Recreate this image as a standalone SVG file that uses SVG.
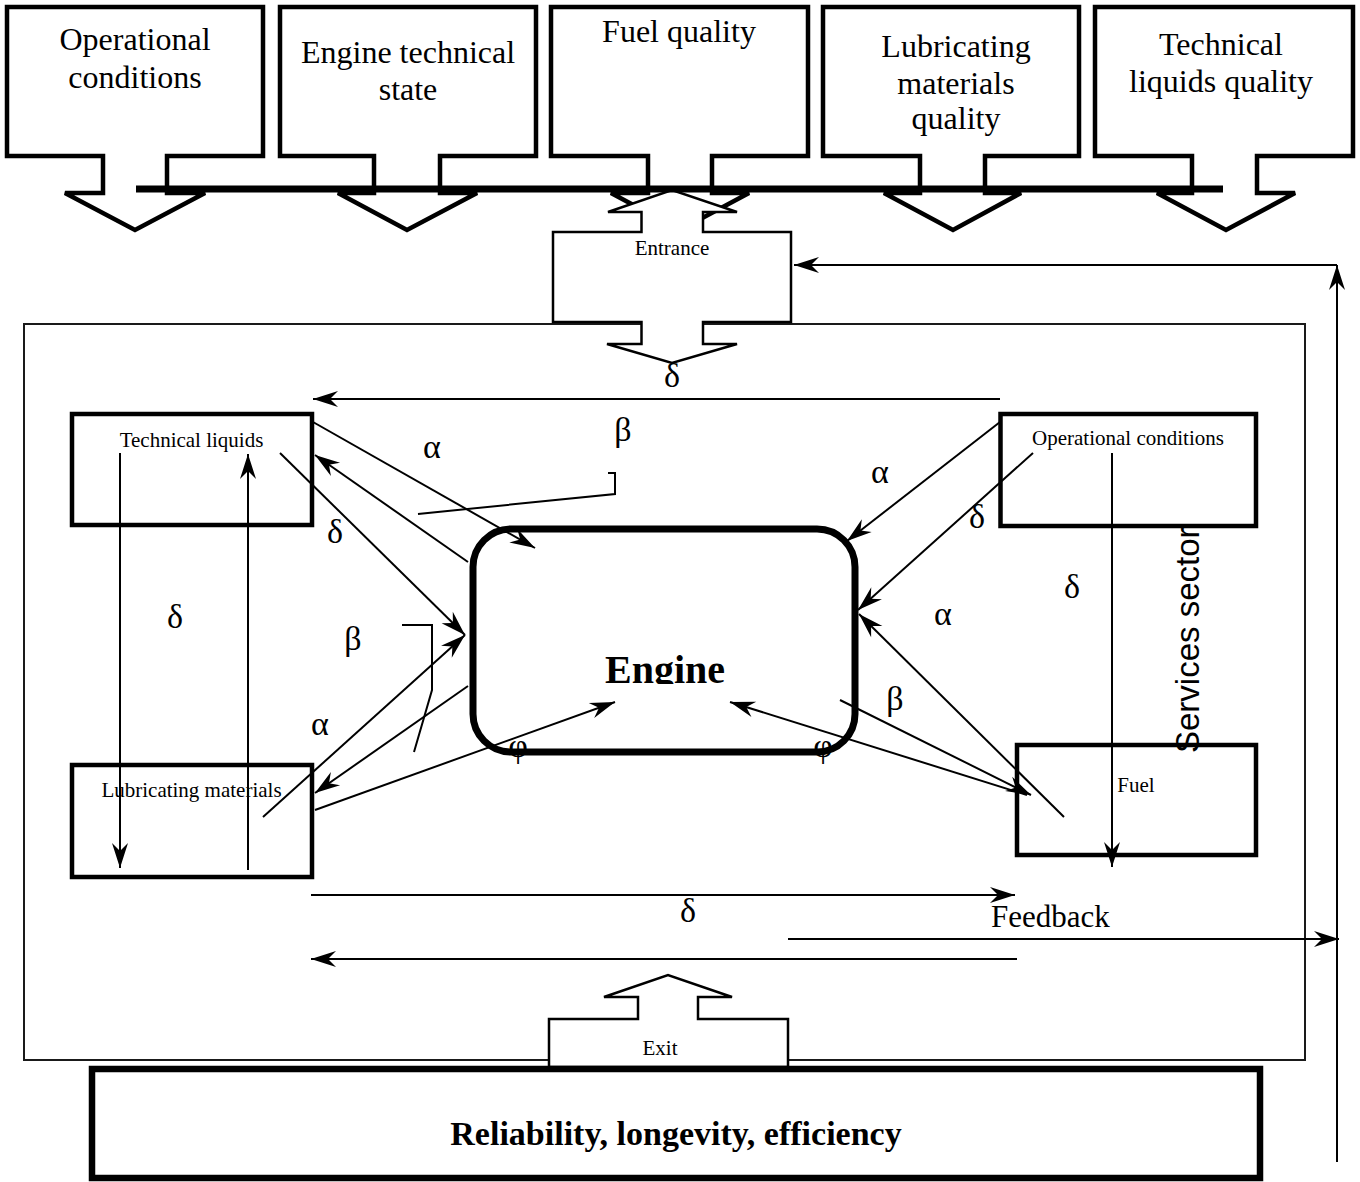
<svg xmlns="http://www.w3.org/2000/svg" width="1360" height="1182" viewBox="0 0 1360 1182">
  <style>
    .serif { font-family: "Liberation Serif", "Times New Roman", serif; fill: #000; }
    .big { font-size: 32px; }
    .small { font-size: 21px; }
    .greek { font-size: 34px; }
    .callout { fill: #fff; stroke: #000; stroke-width: 4.5; stroke-linejoin: miter; }
    .port { fill: #fff; stroke: #000; stroke-width: 2.5; }
    .node { fill: none; stroke: #000; stroke-width: 4.5; }
    .conn { fill: none; stroke: #000; stroke-width: 2; }
    .arrow { marker-end: url(#ah); }
  </style>
  <defs>
    <marker id="ah" viewBox="-26 -9 28 18" refX="0" refY="0" markerWidth="28" markerHeight="18" markerUnits="userSpaceOnUse" orient="auto">
      <path d="M0,0 L-25,-8 L-17,0 L-25,8 Z" fill="#000"/>
    </marker>
    <clipPath id="engineClip">
      <rect x="480" y="600" width="370" height="84"/>
    </clipPath>
  </defs>

  <rect x="0" y="0" width="1360" height="1182" fill="#fff"/>

  <!-- input factors: callout boxes pointing down onto the bus -->
  <g id="in-operational">
    <path class="callout" d="M7,7 H263 V156 H167 V193 H205 L135,230 L65,193 H103 V156 H7 Z"/>
    <text class="serif big" x="135" y="50" text-anchor="middle">Operational</text>
    <text class="serif big" x="135" y="88" text-anchor="middle">conditions</text>
  </g>
  <g id="in-engine-state">
    <path class="callout" d="M280,7 H536 V156 H440 V193 H477 L407,230 L338,193 H374 V156 H280 Z"/>
    <text class="serif big" x="408" y="63" text-anchor="middle">Engine technical</text>
    <text class="serif big" x="408" y="100" text-anchor="middle">state</text>
  </g>
  <g id="in-fuel">
    <path class="callout" d="M551,7 H808 V156 H712 V193 H749 L680,230 L611,193 H648 V156 H551 Z"/>
    <text class="serif big" x="679" y="42" text-anchor="middle">Fuel quality</text>
  </g>
  <g id="in-lubricants">
    <path class="callout" d="M823,7 H1079 V156 H985 V193 H1021 L953,230 L884,193 H920 V156 H823 Z"/>
    <text class="serif big" x="956" y="57" text-anchor="middle">Lubricating</text>
    <text class="serif big" x="956" y="94" text-anchor="middle">materials</text>
    <text class="serif big" x="956" y="129" text-anchor="middle">quality</text>
  </g>
  <g id="in-liquids">
    <path class="callout" d="M1095,7 H1353 V156 H1257 V193 H1295 L1226,230 L1157,193 H1192 V156 H1095 Z"/>
    <text class="serif big" x="1221" y="55" text-anchor="middle">Technical</text>
    <text class="serif big" x="1221" y="92" text-anchor="middle">liquids quality</text>
  </g>

  <!-- system boundary -->
  <rect id="frame" x="24" y="324" width="1281" height="736" fill="none" stroke="#1a1a1a" stroke-width="2"/>

  <!-- entrance port -->
  <g id="entrance">
    <path class="port" d="M553,232 H641.5 V212 H608 L672,190 L737,212 H703 V232 H791 V322 H703 V344 H737 L672,363 L607,344 H641.5 V322 H553 Z"/>
    <text class="serif small" x="672" y="255" text-anchor="middle">Entrance</text>
  </g>

  <!-- input bus -->
  <rect id="bus" x="136" y="185.5" width="1087" height="7" fill="#000"/>

  <!-- subsystem nodes -->
  <g id="technical-liquids">
    <rect class="node" x="72" y="414" width="240" height="111"/>
    <text class="serif small" x="191.5" y="447" text-anchor="middle">Technical liquids</text>
  </g>
  <g id="lubricating-materials">
    <rect class="node" x="72" y="765" width="240" height="112"/>
    <text class="serif small" x="191.5" y="797" text-anchor="middle">Lubricating materials</text>
  </g>
  <g id="operational-conditions">
    <rect class="node" x="1000.5" y="414" width="255.5" height="112"/>
    <text class="serif small" x="1128" y="445" text-anchor="middle">Operational conditions</text>
  </g>
  <g id="fuel">
    <rect class="node" x="1017" y="745" width="239" height="110"/>
    <text class="serif small" x="1136" y="792" text-anchor="middle">Fuel</text>
  </g>

  <!-- connectors -->
  <g id="connectors">
    <line class="conn arrow" x1="313" y1="422" x2="535" y2="548"/>
    <line class="conn arrow" x1="468" y1="562" x2="315" y2="455"/>
    <line class="conn arrow" x1="280" y1="453" x2="465" y2="635"/>
    <line class="conn arrow" x1="263" y1="817" x2="465" y2="635"/>
    <line class="conn arrow" x1="468" y1="686" x2="315" y2="793"/>
    <line class="conn arrow" x1="315" y1="810" x2="615" y2="702"/>
    <line class="conn arrow" x1="120" y1="453" x2="120" y2="868"/>
    <line class="conn arrow" x1="248" y1="870" x2="248" y2="454"/>
    <line class="conn arrow" x1="1000" y1="399" x2="313" y2="399"/>
    <line class="conn arrow" x1="1000" y1="422" x2="847" y2="541"/>
    <line class="conn arrow" x1="1033" y1="453" x2="858" y2="610"/>
    <line class="conn arrow" x1="1064" y1="817" x2="859" y2="614"/>
    <line class="conn arrow" x1="840" y1="700" x2="1031" y2="795"/>
    <line class="conn arrow" x1="1027" y1="795" x2="730" y2="702"/>
    <line class="conn arrow" x1="1112" y1="453" x2="1112" y2="867"/>
    <line class="conn arrow" x1="311" y1="895" x2="1015" y2="895"/>
    <line class="conn arrow" x1="1017" y1="959" x2="311" y2="959"/>
    <line class="conn arrow" x1="788" y1="939" x2="1339" y2="939"/>
    <line class="conn arrow" x1="1337" y1="1162" x2="1337" y2="265"/>
    <line class="conn arrow" x1="1337" y1="265" x2="794" y2="265"/>
    <polyline class="conn" points="608,473 615,473 615,494 418,514"/>
    <polyline class="conn" points="402,625 432,625 432,690 414,752"/>
  </g>

  <!-- link labels -->
  <g id="labels" class="serif greek" text-anchor="middle">
    <text x="672" y="387">δ</text>
    <text x="432" y="458">α</text>
    <text x="623" y="441">β</text>
    <text x="335" y="543">δ</text>
    <text x="353" y="650">β</text>
    <text x="320" y="735">α</text>
    <text x="175" y="628">δ</text>
    <text x="518" y="757">φ</text>
    <text x="823" y="757">φ</text>
    <text x="880" y="483">α</text>
    <text x="977" y="528">δ</text>
    <text x="1072" y="598">δ</text>
    <text x="943" y="625">α</text>
    <text x="895" y="710">β</text>
    <text x="688" y="922">δ</text>
  </g>

  <!-- central node -->
  <g id="engine">
    <rect x="473" y="529" width="382" height="223" rx="38" ry="38" fill="none" stroke="#000" stroke-width="7"/>
    <text class="serif" x="665" y="683" font-size="40" font-weight="bold" text-anchor="middle" clip-path="url(#engineClip)">Engine</text>
  </g>

  <text id="feedback-label" class="serif" x="991" y="927" font-size="31">Feedback</text>
  <text id="services-label" transform="translate(1199,753) rotate(-90)" font-family="'Liberation Sans', Arial, sans-serif" font-size="33" fill="#000">Services sector</text>

  <!-- exit port and output -->
  <g id="exit">
    <path class="port" d="M549,1067 V1019 H638 V997 H604 L668,975 L732,997 H698 V1019 H788 V1067 Z"/>
    <text class="serif small" x="660" y="1055" text-anchor="middle">Exit</text>
  </g>
  <g id="output">
    <rect x="92" y="1069" width="1168" height="109" fill="#fff" stroke="#000" stroke-width="6.5"/>
    <text class="serif" x="676" y="1145" font-size="34" font-weight="bold" text-anchor="middle">Reliability, longevity, efficiency</text>
  </g>
</svg>
